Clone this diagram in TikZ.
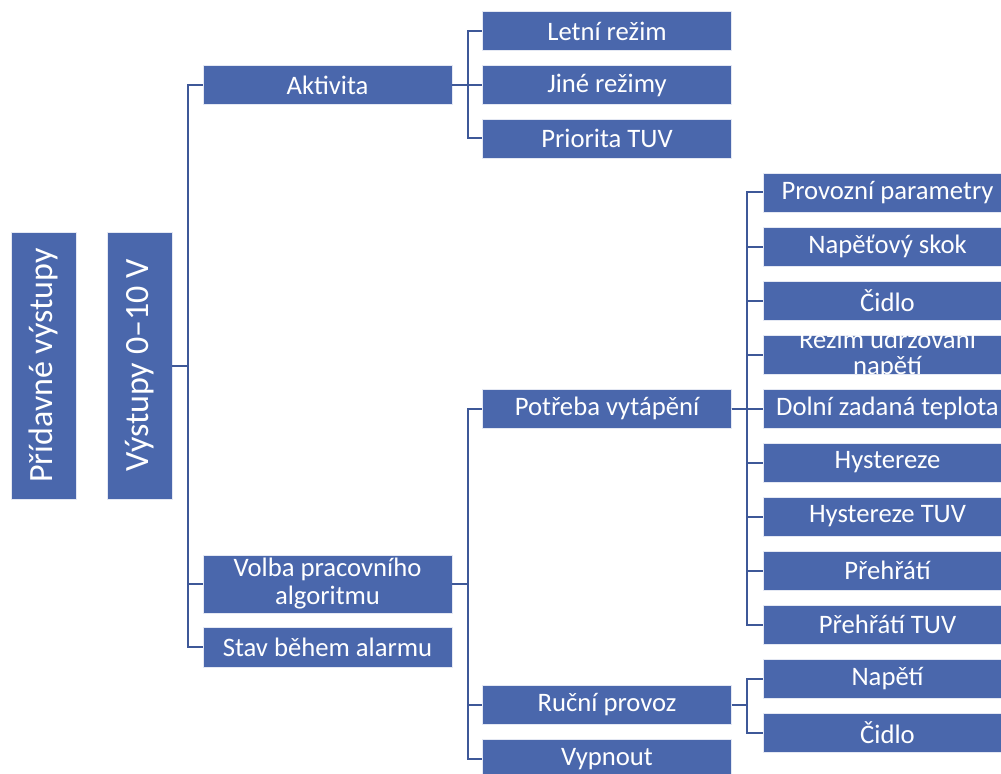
\documentclass[tikz,border=0pt]{standalone}
\usepackage{fontspec}
\setmainfont{Carlito}
\usetikzlibrary{positioning, calc}
\definecolor{boxc}{RGB}{74,103,172}
\definecolor{linec}{RGB}{62,88,152}
\tikzset{
  box/.style={fill=boxc, draw=white!85!boxc, line width=0.4pt, text=white, inner sep=0pt,
    align=center, minimum width=186.75pt, minimum height=29.25pt,
    font=\fontsize{20}{21}\selectfont},
  vbox/.style={box, rotate=90, minimum width=200.25pt, minimum height=48.75pt,
    font=\fontsize{25.5}{28}\selectfont},
  conn/.style={draw=linec, line width=1.5pt}
}

\begin{document}
\begin{tikzpicture}[x=0.75pt, y=-0.75pt]
\useasboundingbox (0,0) rectangle (1001,774);
% ---------- root ----------
\node[vbox] (prid) at (43.5,365.5) {Přídavné výstupy};
\node[vbox] (vyst) at (139.5,365.5) {Výstupy 0–10 V};
% ---------- second level ----------
\node[box] (akt)   at (327.5,85)  {Aktivita};
\node[box, minimum height=43.5pt] (volba) at (327.5,584) {Volba pracovního\\algoritmu};
\node[box, minimum height=30pt] (stav)  at (327.5,647) {Stav během alarmu};
% ---------- third level ----------
\node[box] (let)  at (607,31)    {Letní režim};
\node[box] (jin)  at (607,85)    {Jiné režimy};
\node[box] (pri)  at (607,138.5) {Priorita TUV};
\node[box] (potr) at (607,408.5) {Potřeba vytápění};
\node[box] (rucn) at (607,705)   {Ruční provoz};
\node[box] (vyp)  at (607,759)   {Vypnout};
% ---------- fourth level ----------
\node[box] (prov) at (887.5,192.5) {Provozní parametry};
\node[box] (skok) at (887.5,246.5) {Napěťový skok};
\node[box] (cid1) at (887.5,300.5) {Čidlo};
\node[box] (rez)  at (887.5,354.5) {};
\begin{scope}
  \clip (rez.south west) rectangle (rez.north east);
  \node[box, fill=none, draw=none, font=\fontsize{20}{19.5}\selectfont] (reztxt)
    at (rez.center) {Režim udržování\\napětí};
\end{scope}
\node[box] (doln) at (887.5,408.5) {Dolní zadaná teplota};
\node[box] (hys)  at (887.5,462.5) {Hystereze};
\node[box] (hyst) at (887.5,516.5) {Hystereze TUV};
\node[box] (preh) at (887.5,570.5) {Přehřátí};
\node[box] (prht) at (887.5,624.5) {Přehřátí TUV};
\node[box] (nap)  at (887.5,678.5) {Napětí};
\node[box] (cid2) at (887.5,732.5) {Čidlo};
% ---------- connections ----------
\foreach \c in {akt,volba,stav} \draw[conn] (vyst.south) -- ++(15.5,0) |- (\c.west);
\foreach \c in {let,jin,pri} \draw[conn] (akt.east) -- ++(15.5,0) |- (\c.west);
\foreach \c in {potr,rucn,vyp} \draw[conn] (volba.east) -- ++(15.5,0) |- (\c.west);
\foreach \c in {prov,skok,cid1,rez,doln,hys,hyst,preh,prht}
  \draw[conn] (potr.east) -- ++(15.5,0) |- (\c.west);
\foreach \c in {nap,cid2} \draw[conn] (rucn.east) -- ++(15.5,0) |- (\c.west);
\end{tikzpicture}
\end{document}
